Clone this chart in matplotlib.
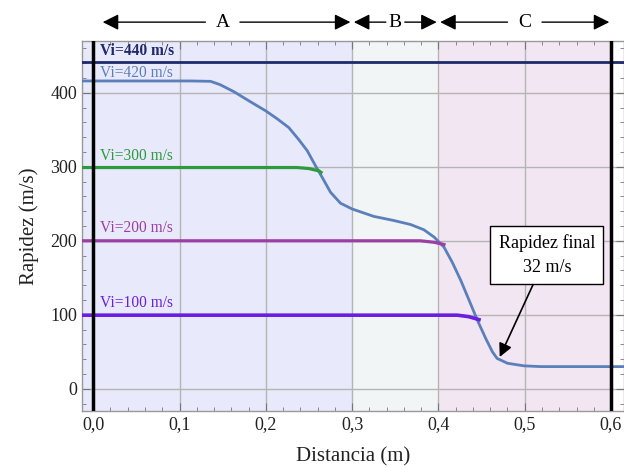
import matplotlib
matplotlib.use("Agg")
import matplotlib.pyplot as plt
from matplotlib.ticker import MultipleLocator, FuncFormatter

plt.rcParams['font.family'] = ['Liberation Serif', 'DejaVu Serif']

# ---- data ----
x_420 = [-0.013, 0.0, 0.10, 0.1125, 0.136, 0.147, 0.163, 0.182, 0.200, 0.213,
         0.2266, 0.238, 0.248, 0.2575, 0.2653, 0.275, 0.2865, 0.300, 0.310,
         0.325, 0.348, 0.3677, 0.383, 0.395, 0.4064, 0.416, 0.4258, 0.4354,
         0.445, 0.4548, 0.4625, 0.468, 0.480, 0.4993, 0.5186, 0.560, 0.615]
v_420 = [416, 416, 416, 416, 415.5, 411, 401.5, 388, 375.5, 365,
         353, 337, 321.7, 301.5, 285.7, 265.5, 250.8, 243, 239,
         233, 227.5, 222, 215, 205, 191.5, 171, 146.7, 120,
         93, 68, 50, 41, 34.5, 31, 30, 30, 30]

x_300 = [-0.013, 0.236, 0.250, 0.2614, 0.264]
v_300 = [299, 299, 297.6, 294.5, 292.5]

x_200 = [-0.013, 0.379, 0.395, 0.4064]
v_200 = [200, 200, 198, 195]

x_100 = [-0.013, 0.422, 0.435, 0.447]
v_100 = [99.5, 99.5, 97.5, 93.5]

v_440 = 441

zones = [("A", -0.013, 0.3, 0.0, "#e8e9fb"),
         ("B", 0.3, 0.4, 0.3, "#f1f5f6"),
         ("C", 0.4, 0.6, 0.4, "#f3e6f3")]

labels = ["Vi=440 m/s", "Vi=420 m/s", "Vi=300 m/s", "Vi=200 m/s", "Vi=100 m/s"]
label_y = [456, 427, 315, 217, 116]
colors = ["#1f2a6b", "#5b7fbb", "#2e9a3e", "#9c3fa5", "#6a1fe0"]

fig = plt.figure(figsize=(6.24, 4.69), dpi=100)
ax = fig.add_axes([82 / 624, 1 - 411 / 469, 1 - 82 / 624, 370 / 469])

ax.set_xlim(-0.013, 0.615)
ax.set_ylim(-30, 470)

# shaded zones
for name, a, b, start, col in zones:
    ax.axvspan(a, b, color=col, zorder=0, lw=0)

# grid
for gx in [0.1, 0.2, 0.3, 0.4, 0.5]:
    ax.axvline(gx, color="#b5b5b5", lw=1, zorder=1)
for gy in [0, 100, 200, 300, 400]:
    ax.axhline(gy, color="#b5b5b5", lw=1, zorder=1)

ax.axvline(0.0, color="black", lw=2.5, zorder=4)
ax.axvline(0.6, color="black", lw=2.5, zorder=4)

ax.axhline(v_440, color=colors[0], lw=2, zorder=3)
ax.plot(x_420, v_420, color=colors[1], lw=2, zorder=3, solid_joinstyle="round")
ax.plot(x_300, v_300, color=colors[2], lw=2.3, zorder=3, solid_joinstyle="round")
ax.plot(x_200, v_200, color=colors[3], lw=2.3, zorder=3, solid_joinstyle="round")
ax.plot(x_100, v_100, color=colors[4], lw=2.6, zorder=3, solid_joinstyle="round")

for txt, yy, col in zip(labels, label_y, colors):
    ax.text(0.008, yy, txt, color=col, fontsize=11.2, va="center", ha="left",
            fontweight="bold" if txt == labels[0] else "normal", zorder=5)

# zone arrows above the axes
xt = ax.get_xaxis_transform()
for name, a, b, start, col in zones:
    mid = (start + b) / 2
    gap = 0.011 if name == "B" else 0.02
    ax.text(mid, 1.051, name, transform=xt, ha="center", va="center", fontsize=14)
    for end, sgn in [(start + 0.011 if start == 0.0 else start + 0.002, -1), (b - 0.002, 1)]:
        ax.annotate("", xy=(end, 1.051), xycoords=xt,
                    xytext=(mid + sgn * gap, 1.051), textcoords=xt,
                    arrowprops=dict(arrowstyle="-|>", color="black", lw=1,
                                    mutation_scale=24, shrinkA=0, shrinkB=0),
                    annotation_clip=False)

# final speed callout
ax.annotate("Rapidez final\n32 m/s", xy=(0.471, 43), xytext=(0.5255, 181),
            ha="center", va="center", fontsize=13, linespacing=1.5,
            bbox=dict(boxstyle="square,pad=0.45", fc="white", ec="black", lw=1),
            arrowprops=dict(arrowstyle="-|>", color="black", lw=1.2,
                            mutation_scale=20, shrinkA=0, shrinkB=0),
            zorder=6)

# ticks and spines
ax.xaxis.set_major_locator(MultipleLocator(0.1))
ax.xaxis.set_minor_locator(MultipleLocator(0.02))
ax.yaxis.set_major_locator(MultipleLocator(100))
ax.yaxis.set_minor_locator(MultipleLocator(20))
ax.xaxis.set_major_formatter(FuncFormatter(lambda v, p: f"{v:.1f}".replace(".", ",")))
ax.tick_params(which="both", direction="in", top=True, right=True, colors="#777777",
               labelcolor="#222222")
ax.tick_params(which="major", length=6, labelsize=13)
ax.tick_params(which="minor", length=3)
for s in ax.spines.values():
    s.set_color("#999999")
    s.set_linewidth(1)

ax.set_xlabel("Distancia (m)", fontsize=15, color="#222222", labelpad=10)
ax.set_ylabel("Rapidez (m/s)", fontsize=15, color="#222222", labelpad=8)

fig.savefig("out.png", dpi=100)
